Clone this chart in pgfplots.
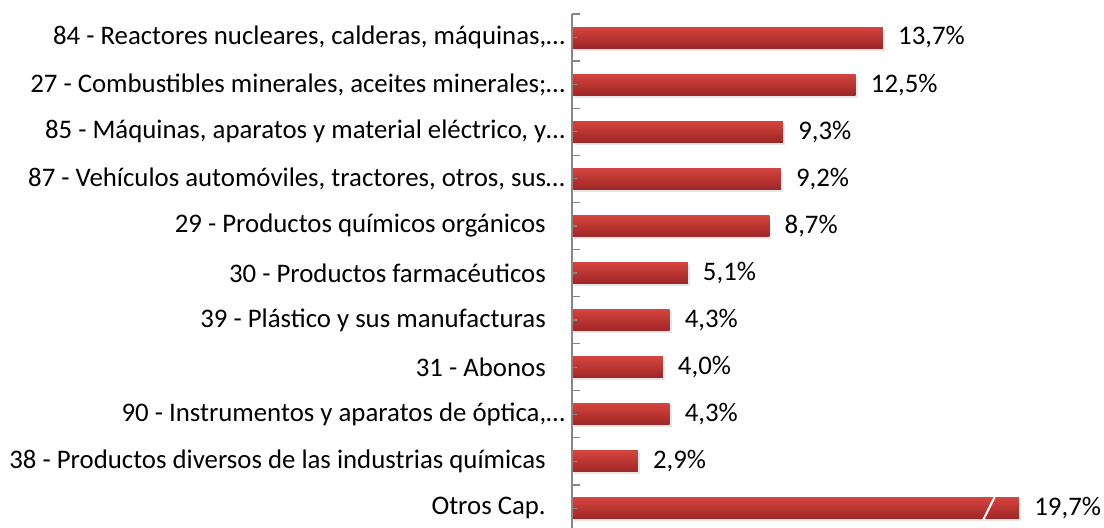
\documentclass[border=0pt]{standalone}
\usepackage{pgfplots}
\pgfplotsset{compat=1.18}
\usepackage{pgfplotstable}
\usepackage{fontspec}
\setmainfont{Carlito}
\definecolor{bartop}{RGB}{212,68,62}
\definecolor{barbot}{RGB}{158,38,38}
\definecolor{axgray}{RGB}{134,134,134}
\pgfplotstableread{
idx val
0 13.7
1 12.5
2 9.3
3 9.2
4 8.7
5 5.1
6 4.3
7 4.0
8 4.3
9 2.9
10 19.7
}\datatable
\newcommand{\lf}{\fontsize{26.8bp}{30bp}\selectfont}
\begin{document}
\begin{tikzpicture}
\useasboundingbox (0,0) rectangle (1104bp,528bp);
\begin{axis}[
  at={(572bp,514bp)}, anchor=north west,
  scale only axis, width=465bp, height=518bp,
  xmin=0, xmax=20.485,
  ymin=-0.5, ymax=10.5, y dir=reverse,
  hide x axis,
  axis y line*=left,
  axis line style={axgray, line width=1.5bp},
  ytick={0,...,10},
  yticklabels={
    {84 - Reactores nucleares, calderas, máquinas,…},
    {27 - Combustibles minerales, aceites minerales;…},
    {85 - Máquinas, aparatos y material eléctrico, y…},
    {87 - Vehículos automóviles, tractores, otros, sus…},
    {29 - Productos químicos orgánicos\hspace*{19bp}},
    {30 - Productos farmacéuticos\hspace*{19bp}},
    {39 - Plástico y sus manufacturas\hspace*{19bp}},
    {31 - Abonos\hspace*{19bp}},
    {90 - Instrumentos y aparatos de óptica,…},
    {38 - Productos diversos de las industrias químicas\hspace*{19bp}},
    {Otros Cap.\hspace*{19bp}}
  },
  extra y ticks={-0.5,0.5,1.5,2.5,3.5,4.5,5.5,6.5,7.5,8.5,9.5,10.5},
  extra y tick labels={},
  extra y tick style={major tick length=8bp},
  major tick length=5bp,
  tick align=inside,
  ytick pos=left,
  tick style={axgray, line width=1.3bp},
  yticklabel style={anchor=east, inner sep=0pt, font=\lf, text=black},
  yticklabel shift=7bp,
  clip=false,
  axis on top,
]
\pgfplotsinvokeforeach{0,...,10}{
\addplot[xbar, bar width=21bp, draw=none, fill=black!14, opacity=0.7, xshift=2bp, yshift=-2.5bp,
  y filter/.expression={abs(y-#1)<0.1 ? y : nan}]
  table[x=val, y=idx] {\datatable};
\addplot[xbar, bar width=21bp, draw=none, top color=bartop, bottom color=barbot,
  y filter/.expression={abs(y-#1)<0.1 ? y : nan},
  point meta=x,
  nodes near coords={\pgfmathprintnumber[fixed,fixed zerofill,precision=1,use comma,assume math mode=true]{\pgfplotspointmeta}\%},
  every node near coord/.append style={anchor=west, xshift=15bp, inner sep=0pt, font=\lf, text=black, opacity=1}]
  table[x=val, y=idx] {\datatable};
}
\draw[white, line width=2bp] (axis cs:18.12,10.24) -- (axis cs:18.62,9.76);
\end{axis}
\end{tikzpicture}
\end{document}
